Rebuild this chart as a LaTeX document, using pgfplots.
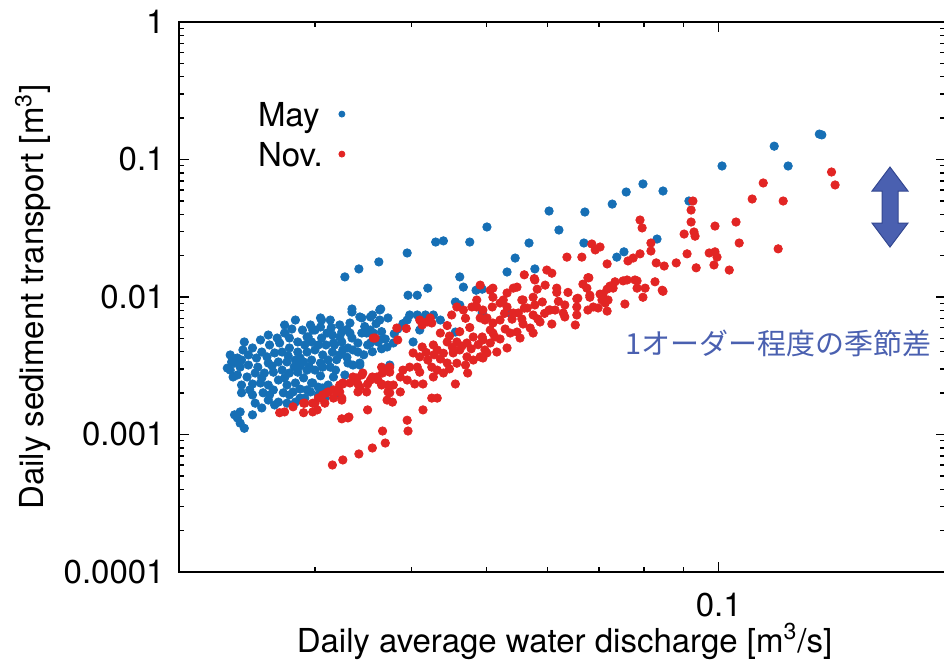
\documentclass[border=0pt]{standalone}
\usepackage{fontspec}
\setmainfont{TeX Gyre Heros}
\newfontfamily\jpfont{Noto Sans CJK JP}
\usepackage{pgfplots}
\usepackage{pgfplotstable}
\pgfplotsset{compat=1.18}

\definecolor{mayblue}{RGB}{22,111,181}
\definecolor{novred}{RGB}{226,37,36}
\definecolor{noteblue}{RGB}{74,96,176}
\definecolor{notedark}{RGB}{52,72,145}

\newcommand\lblfont{\fontsize{16.5}{19}\selectfont}

% Daily discharge [m^3/s] vs. daily sediment transport [m^3], May
\pgfplotstableread{
q v
0.136 0.151
0.135 0.153
0.118 0.125
0.123 0.0897
0.101 0.0897
0.0798 0.0664
0.0759 0.058
0.0847 0.059
0.0728 0.0474
0.0915 0.0499
0.0671 0.0415
0.0603 0.0422
0.0501 0.0323
0.0621 0.0307
0.0568 0.0247
0.0669 0.0247
0.0832 0.0264
0.0430 0.0251
0.0440 0.0256
0.0476 0.0251
0.0395 0.0209
0.0363 0.0180
0.0342 0.0160
0.0328 0.0140
0.0545 0.0192
0.0532 0.0152
0.0578 0.0160
0.0738 0.0195
0.0754 0.0213
0.0462 0.0140
0.0467 0.0118
0.0420 0.0116
0.0396 0.0103
0.0407 0.0103
0.0485 0.0112
0.0494 0.0114
0.0456 0.0092
0.0462 0.00875
0.0335 0.00818
0.0365 0.00818
0.0537 0.00765
0.0494 0.00765
0.0456 0.00556
0.0305 0.00704
0.0314 0.0068
0.0323 0.00626
0.0333 0.00647
0.0343 0.00716
0.0354 0.00716
0.0364 0.0068
0.0373 0.00704
0.0398 0.0074
0.0407 0.0074
0.0417 0.0074
0.0427 0.0074
0.0402 0.00471
0.0379 0.00463
0.0370 0.00495
0.0357 0.00547
0.0350 0.00547
0.0341 0.00463
0.0336 0.00412
0.0326 0.00412
0.0317 0.00463
0.0311 0.00547
0.0305 0.00605
0.0298 0.00575
0.0293 0.00512
0.0323 0.00512
0.0333 0.00547
0.0354 0.00463
0.0364 0.00487
0.0372 0.00433
0.0375 0.0032
0.0336 0.0032
0.0343 0.00331
0.0317 0.00262
0.0307 0.00309
0.0298 0.00237
0.0293 0.00211
0.0338 0.00249
0.0307 0.00218
0.0287 0.00184
0.0335 0.00778
0.0345 0.00704
0.0356 0.0074
0.0364 0.00804
0.0306 0.0068
0.0280 0.00585
0.0289 0.00575
0.0294 0.00512
0.0300 0.00575
0.0274 0.00547
0.0268 0.00503
0.0262 0.00448
0.0270 0.00463
0.0278 0.00503
0.0285 0.00471
0.0291 0.00448
0.0297 0.00471
0.0306 0.00503
0.0316 0.00529
0.0325 0.00556
0.0325 0.00471
0.0335 0.00503
0.0345 0.00547
0.0354 0.00575
0.0351 0.00448
0.0362 0.00471
0.0331 0.00426
0.0341 0.00398
0.0249 0.00426
0.0256 0.00398
0.0246 0.00379
0.0252 0.0036
0.0260 0.00367
0.0266 0.00392
0.0272 0.00398
0.0278 0.00426
0.0285 0.00398
0.0293 0.00398
0.0300 0.00412
0.0307 0.00379
0.0316 0.00398
0.0323 0.00379
0.0241 0.00348
0.0236 0.00331
0.0233 0.00294
0.0240 0.00309
0.0246 0.0032
0.0253 0.00309
0.0261 0.00331
0.0269 0.00337
0.0276 0.00337
0.0283 0.00348
0.0290 0.00337
0.0297 0.00348
0.0305 0.00331
0.0312 0.00348
0.0238 0.00271
0.0245 0.00262
0.0251 0.0028
0.0258 0.0028
0.0265 0.00284
0.0272 0.00294
0.0278 0.0028
0.0285 0.00284
0.0293 0.00294
0.0300 0.00294
0.0314 0.00309
0.0331 0.00331
0.0343 0.0032
0.0241 0.00229
0.0249 0.00233
0.0255 0.00237
0.0261 0.00229
0.0269 0.00249
0.0276 0.00229
0.0283 0.00237
0.0290 0.00258
0.0297 0.00237
0.0241 0.00201
0.0249 0.00194
0.0257 0.00201
0.0265 0.00211
0.0273 0.00201
0.0281 0.00204
0.0287 0.00214
0.0296 0.00204
0.0303 0.00221
0.0312 0.00229
0.0269 0.00172
0.0276 0.00169
0.0283 0.00172
0.0261 0.00178
0.0266 0.00164
0.0240 0.00146
0.0238 0.00132
0.0240 0.00121
0.0243 0.00111
0.0249 0.00139
0.0231 0.00304
0.0234 0.00337
0.0238 0.0036
0.0235 0.00262
0.0242 0.00412
0.0236 0.00139
0.0255 0.00487
0.0261 0.00529
0.0274 0.00626
0.0283 0.0068
0.0296 0.00626
0.0303 0.00448
0.0310 0.00448
0.0318 0.00448
0.0287 0.0036
0.0277 0.00373
0.0264 0.00315
0.0256 0.00258
0.0247 0.00211
0.0274 0.00258
0.0287 0.00315
0.0305 0.00267
0.0319 0.00294
0.0328 0.00271
0.0251 0.00169
0.0256 0.00156
0.0233 0.00379
0.0243 0.00471
0.0262 0.00194
0.0291 0.00184
0.0303 0.00194
0.0278 0.00194
0.0321 0.00201
0.0309 0.00184
0.0384 0.00585
0.0410 0.00575
0.0436 0.0068
0.0348 0.00610
0.0360 0.00640
0.0330 0.00580
0.0315 0.00600
0.0366 0.00560
0.0380 0.00540
0.0390 0.00640
0.0395 0.00680
0.0347 0.00380
0.0356 0.00400
0.0366 0.00420
0.0320 0.00350
0.0330 0.00365
0.0295 0.00310
0.0282 0.00310
}\maydata

% Same quantities, November
\pgfplotstableread{
q v
0.140 0.0811
0.1415 0.0653
0.1142 0.0675
0.1105 0.0516
0.1212 0.0499
0.1194 0.0224
0.1063 0.0247
0.0926 0.0499
0.0921 0.0429
0.0921 0.0351
0.0902 0.0287
0.0929 0.0297
0.0932 0.0277
0.0989 0.0328
0.1053 0.0351
0.0972 0.0209
0.0989 0.0213
0.0995 0.0195
0.0910 0.0206
0.0986 0.0171
0.1032 0.0157
0.0935 0.0163
0.0881 0.0177
0.0850 0.0168
0.0830 0.0177
0.0817 0.0216
0.0817 0.0247
0.0791 0.0363
0.0796 0.0318
0.0791 0.0206
0.0775 0.0192
0.0763 0.0183
0.0717 0.0174
0.0685 0.0243
0.0692 0.0220
0.0702 0.0231
0.0665 0.0195
0.0636 0.0195
0.0679 0.0138
0.0667 0.0124
0.0638 0.0108
0.0723 0.0120
0.0734 0.0129
0.0752 0.0131
0.0761 0.0133
0.0784 0.0131
0.0784 0.0116
0.0803 0.0116
0.0827 0.0129
0.0847 0.0110
0.0798 0.00996
0.0702 0.0105
0.0717 0.0114
0.0730 0.0116
0.0560 0.0145
0.0599 0.0157
0.0608 0.0149
0.0542 0.0116
0.0548 0.0118
0.0510 0.0116
0.0506 0.0112
0.0578 0.0133
0.0617 0.0116
0.0617 0.0108
0.0596 0.0122
0.0677 0.0138
0.0756 0.00889
0.0706 0.00951
0.0713 0.00904
0.0698 0.00832
0.0688 0.00846
0.0677 0.00804
0.0717 0.0079
0.0681 0.0103
0.0657 0.0098
0.0632 0.00875
0.0632 0.00716
0.0655 0.0074
0.0652 0.00626
0.0614 0.00804
0.0605 0.00804
0.0591 0.0092
0.0575 0.00996
0.0578 0.00875
0.0558 0.00951
0.0565 0.00832
0.0550 0.00765
0.0532 0.00846
0.0526 0.00951
0.0510 0.00996
0.0509 0.00846
0.0495 0.00804
0.0501 0.00704
0.0510 0.00647
0.0521 0.0068
0.0556 0.00692
0.0558 0.00636
0.0575 0.0074
0.0583 0.00692
0.0570 0.00595
0.0575 0.00547
0.0587 0.00658
0.0548 0.00556
0.0553 0.00503
0.0529 0.00585
0.0537 0.00547
0.0521 0.00495
0.0532 0.00426
0.0510 0.00547
0.0506 0.00463
0.0495 0.00487
0.0498 0.00412
0.0495 0.0036
0.0516 0.00398
0.0608 0.00636
0.0779 0.0133
0.0845 0.0112
0.0383 0.00595
0.0394 0.0059
0.0359 0.00503
0.0384 0.00487
0.0413 0.00626
0.0419 0.00658
0.0425 0.00647
0.0451 0.0074
0.0458 0.00846
0.0467 0.00804
0.0479 0.00846
0.0486 0.00846
0.0491 0.00704
0.0498 0.0068
0.0436 0.00547
0.0445 0.00471
0.0458 0.00471
0.0472 0.00463
0.0481 0.00512
0.0494 0.00512
0.0506 0.00575
0.0513 0.00512
0.0427 0.00448
0.0432 0.00412
0.0413 0.00433
0.0402 0.00392
0.0410 0.00367
0.0420 0.00348
0.0436 0.00354
0.0445 0.00331
0.0453 0.00392
0.0462 0.00412
0.0472 0.00367
0.0481 0.00348
0.0491 0.00367
0.0501 0.00392
0.0432 0.00294
0.0440 0.0028
0.0425 0.00309
0.0398 0.00309
0.0407 0.00309
0.0410 0.00284
0.0390 0.00294
0.0387 0.00262
0.0375 0.00309
0.0367 0.0028
0.0361 0.00262
0.0354 0.00249
0.0366 0.00233
0.0379 0.00229
0.0395 0.00249
0.0404 0.00233
0.0414 0.00233
0.0427 0.00262
0.0346 0.0028
0.0340 0.00258
0.0333 0.00237
0.0343 0.00221
0.0326 0.00233
0.0323 0.00204
0.0317 0.00211
0.0311 0.00201
0.0305 0.00184
0.0298 0.00169
0.0291 0.00169
0.0302 0.00151
0.0309 0.00169
0.0290 0.00144
0.0325 0.00184
0.0351 0.00151
0.0373 0.00204
0.0372 0.00178
0.0378 0.00172
0.0387 0.00204
0.0425 0.00184
0.0432 0.00184
0.0414 0.00151
0.0395 0.00127
0.0396 0.00106
0.0367 0.00106
0.0370 0.000867
0.0356 0.000798
0.0342 0.000722
0.0326 0.000653
0.0316 0.0006
0.0325 0.0013
0.0332 0.00134
0.0270 0.00144
0.0274 0.00146
0.0281 0.00159
0.0290 0.00169
0.0300 0.00169
0.0298 0.00146
0.0312 0.00204
0.0307 0.00194
0.0303 0.00184
0.0320 0.00204
0.0323 0.00229
0.0317 0.00184
0.0326 0.00237
0.0336 0.00262
0.0345 0.00271
0.0341 0.00233
0.0351 0.00233
0.0356 0.00262
0.0362 0.00249
0.0366 0.00229
0.0350 0.00204
0.0341 0.00204
0.0325 0.00178
0.0331 0.00132
0.0357 0.00503
0.0366 0.00309
0.0370 0.00294
0.0375 0.00284
0.0373 0.00229
0.0375 0.00201
0.0577 0.0136
0.0582 0.0114
0.0655 0.0097
0.0675 0.0116
0.0681 0.00996
0.0708 0.0105
0.0719 0.00951
0.0532 0.0107
0.0556 0.00951
0.0603 0.00804
0.0629 0.00765
0.0655 0.00846
0.0521 0.00904
0.0542 0.00765
0.0486 0.00951
0.0423 0.00704
0.0410 0.0068
0.0491 0.0122
0.0456 0.00233
0.0473 0.0028
0.0440 0.00390
0.0452 0.00430
0.0465 0.00440
0.0478 0.00420
0.0488 0.00450
0.0448 0.00300
0.0458 0.00330
0.0470 0.00320
0.0418 0.00395
0.0428 0.00380
0.0448 0.00520
0.0462 0.00560
0.0476 0.00600
0.0470 0.00700
0.0445 0.00620
0.0528 0.00760
0.0540 0.00690
0.0560 0.00830
0.0595 0.00760
0.0620 0.00930
}\novdata

\begin{document}
\begin{tikzpicture}
\begin{axis}[
  at={(0,0)}, anchor=south west,
  scale only axis, width=383.25pt, height=275pt,
  xmode=log, ymode=log,
  xmin=0.02, xmax=0.1967, ymin=1e-4, ymax=1,
  xtick={0.1}, xticklabels={0.1},
  minor xtick={0.03,0.04,0.05,0.06,0.07,0.08,0.09},
  ytick={1e-4,1e-3,1e-2,1e-1,1},
  yticklabels={0.0001,0.001,0.01,0.1,1},
  minor ytick={2e-4,3e-4,4e-4,5e-4,6e-4,7e-4,8e-4,9e-4,
               2e-3,3e-3,4e-3,5e-3,6e-3,7e-3,8e-3,9e-3,
               0.02,0.03,0.04,0.05,0.06,0.07,0.08,0.09,
               0.2,0.3,0.4,0.5,0.6,0.7,0.8,0.9},
  tick align=inside,
  major tick length=5pt, minor tick length=2.5pt,
  tick style={black, line width=0.7pt},
  axis line style={line width=1.4pt},
  tick label style={font=\lblfont},
  yticklabel style={anchor=east, inner sep=0pt, xshift=-7pt},
  xticklabel style={anchor=north, inner sep=0pt, yshift=-10.5pt},
  xlabel={Daily average water discharge [m\textsuperscript{3}/s]},
  ylabel={Daily sediment transport [m\textsuperscript{3}]},
  every axis x label/.style={at={(rel axis cs:0.503,-0.1455)}, anchor=base, font=\lblfont},
  every axis y label/.style={at={(rel axis cs:-0.1761,0.5)}, anchor=base, rotate=90, font=\lblfont},
  legend style={at={(rel axis cs:0.1031,0.858)}, anchor=north west,
    draw=none, fill=none, inner sep=0pt, outer sep=0pt,
    row sep=6pt, column sep=8pt, font=\lblfont,
    nodes={inner sep=0pt, text height=13pt, text depth=1pt}},
  legend cell align=left,
  legend plot pos=right,
  legend image code/.code={\draw[#1, mark size=1.5pt] plot coordinates {(0pt,0pt)};},
]
\addplot[only marks, mark=*, mark size=2.1pt, color=mayblue] table[x=q, y=v] {\maydata};
\addlegendentry{May}
\addplot[only marks, mark=*, mark size=2.1pt, color=novred] table[x=q, y=v] {\novdata};
\addlegendentry{Nov.}

\node[anchor=west, inner sep=0pt, text=noteblue,
      font=\jpfont\fontsize{14.5}{17}\selectfont]
  at (rel axis cs:0.5819,0.4164) {1オーダー程度の季節差};
\coordinate (arrC) at (rel axis cs:0.9276,0.6636);
\end{axis}

% double-headed arrow marking the seasonal gap
\draw[fill=noteblue, draw=notedark, line width=0.5pt, shift={(arrC)}]
  (0pt,20pt) -- (9pt,8pt) -- (4pt,8pt) -- (4pt,-8pt) -- (9pt,-8pt)
  -- (0pt,-20pt) -- (-9pt,-8pt) -- (-4pt,-8pt) -- (-4pt,8pt) -- (-9pt,8pt) -- cycle;

\pgfresetboundingbox
\path[use as bounding box] (-89.5pt,-46pt) rectangle (382.5pt,286pt);
\end{tikzpicture}
\end{document}
